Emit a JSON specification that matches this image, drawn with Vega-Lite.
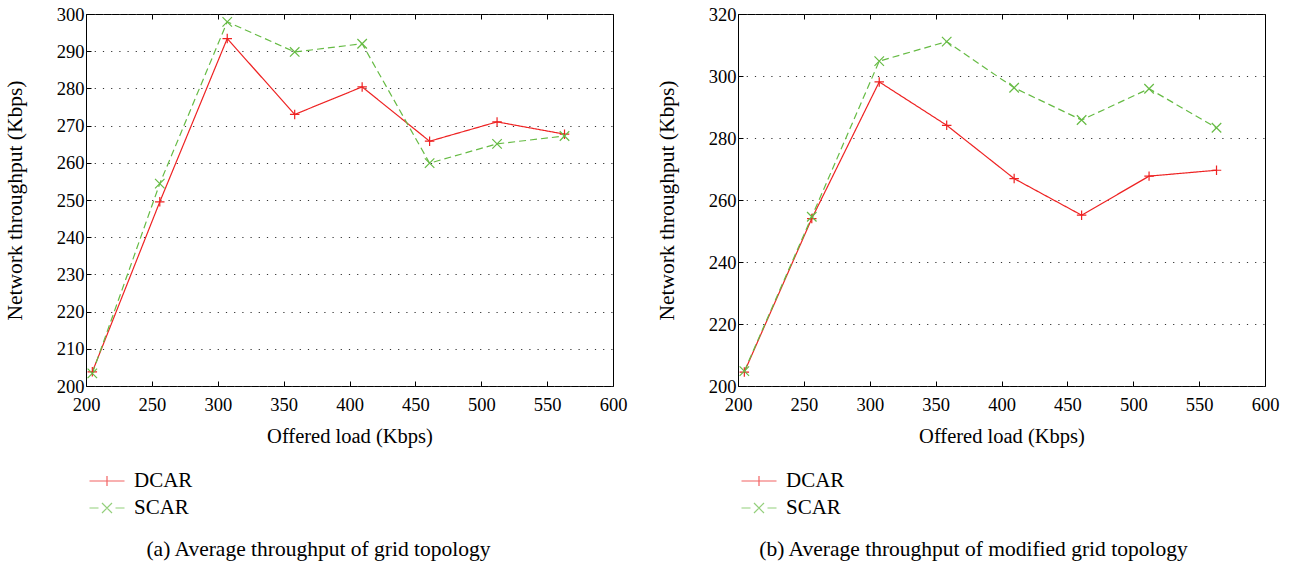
{
  "$schema": "https://vega.github.io/schema/vega-lite/v6.json",
  "padding": {"left": 3, "top": 4, "right": 0, "bottom": 0},
  "background": "white",
  "datasets": {
    "a": [
      {"load": 204.8, "tp": 203.8, "series": "DCAR"},
      {"load": 256.0, "tp": 249.5, "series": "DCAR"},
      {"load": 307.2, "tp": 293.4, "series": "DCAR"},
      {"load": 358.4, "tp": 273.0, "series": "DCAR"},
      {"load": 409.6, "tp": 280.4, "series": "DCAR"},
      {"load": 460.8, "tp": 265.8, "series": "DCAR"},
      {"load": 512.0, "tp": 271.0, "series": "DCAR"},
      {"load": 563.2, "tp": 267.7, "series": "DCAR"},
      {"load": 204.8, "tp": 203.4, "series": "SCAR"},
      {"load": 256.0, "tp": 254.4, "series": "SCAR"},
      {"load": 307.2, "tp": 297.9, "series": "SCAR"},
      {"load": 358.4, "tp": 289.8, "series": "SCAR"},
      {"load": 409.6, "tp": 292.0, "series": "SCAR"},
      {"load": 460.8, "tp": 259.9, "series": "SCAR"},
      {"load": 512.0, "tp": 265.1, "series": "SCAR"},
      {"load": 563.2, "tp": 267.2, "series": "SCAR"}
    ],
    "b": [
      {"load": 204.8, "tp": 204.5, "series": "DCAR"},
      {"load": 256.0, "tp": 254.0, "series": "DCAR"},
      {"load": 307.2, "tp": 298.1, "series": "DCAR"},
      {"load": 358.4, "tp": 284.1, "series": "DCAR"},
      {"load": 409.6, "tp": 266.9, "series": "DCAR"},
      {"load": 460.8, "tp": 255.1, "series": "DCAR"},
      {"load": 512.0, "tp": 267.7, "series": "DCAR"},
      {"load": 563.2, "tp": 269.6, "series": "DCAR"},
      {"load": 204.8, "tp": 204.8, "series": "SCAR"},
      {"load": 256.0, "tp": 254.6, "series": "SCAR"},
      {"load": 307.2, "tp": 304.8, "series": "SCAR"},
      {"load": 358.4, "tp": 311.1, "series": "SCAR"},
      {"load": 409.6, "tp": 296.2, "series": "SCAR"},
      {"load": 460.8, "tp": 285.8, "series": "SCAR"},
      {"load": 512.0, "tp": 295.9, "series": "SCAR"},
      {"load": 563.2, "tp": 283.3, "series": "SCAR"}
    ]
  },
  "spacing": 27,
  "hconcat": [
    {
      "width": 527,
      "height": 372,
      "data": {"name": "a"},
      "title": {"text": "(a)  Average throughput of grid topology", "orient": "bottom", "anchor": "middle", "dx": -31, "offset": 21},
      "resolve": {"axis": {"x": "independent"}, "scale": {"shape": "independent", "color": "independent"}},
      "layer": [
        {
          "mark": {"type": "line", "strokeWidth": 1.2},
          "encoding": {
            "x": {"field": "load", "type": "quantitative", "scale": {"domain": [200, 600]}, "axis": {"values": [200, 250, 300, 350, 400, 450, 500, 550, 600], "title": "Offered load (Kbps)", "orient": "bottom"}},
            "y": {"field": "tp", "type": "quantitative", "scale": {"domain": [200, 300]}, "axis": {"values": [200, 210, 220, 230, 240, 250, 260, 270, 280, 290, 300], "title": "Network throughput (Kbps)", "grid": true}},
            "color": {"field": "series", "type": "nominal", "scale": {"domain": ["DCAR", "SCAR"], "range": ["#ee2222", "#66bb44"]}, "legend": null},
            "strokeDash": {"field": "series", "type": "nominal", "scale": {"domain": ["DCAR", "SCAR"], "range": [[1, 0], [7, 4]]}, "legend": null}
          }
        },
        {
          "mark": {"type": "point", "filled": false, "strokeWidth": 1.2, "size": 90, "opacity": 1},
          "encoding": {
            "x": {"field": "load", "type": "quantitative", "axis": {"orient": "top", "values": [200, 250, 300, 350, 400, 450, 500, 550, 600], "labels": false, "title": null}},
            "y": {"field": "tp", "type": "quantitative", "axis": {"values": [200, 210, 220, 230, 240, 250, 260, 270, 280, 290, 300], "title": "Network throughput (Kbps)", "grid": true}},
            "color": {"field": "series", "type": "nominal", "scale": {"domain": ["DCAR", "SCAR"], "range": ["#ee2222", "#66bb44"]}, "legend": null},
            "shape": {"field": "series", "type": "nominal", "scale": {"domain": ["DCAR", "SCAR"], "range": ["M-1,0H1M0,-1V1", "M-1,-1L1,1M-1,1L1,-1"]}, "legend": null}
          }
        },
        {
          "transform": [{"filter": "datum.load < 0"}],
          "mark": {"type": "point", "filled": false, "strokeWidth": 1.2},
          "encoding": {
            "x": {"field": "load", "type": "quantitative", "axis": null},
            "y": {"field": "tp", "type": "quantitative", "axis": {"values": [200, 210, 220, 230, 240, 250, 260, 270, 280, 290, 300], "title": "Network throughput (Kbps)", "grid": true}},
            "color": {"field": "series", "type": "nominal", "scale": {"domain": ["DCAR", "SCAR"], "range": ["#ee2222", "#66bb44"]}, "legend": {"orient": "none", "legendX": 10, "legendY": 456, "direction": "vertical", "title": null}},
            "shape": {"field": "series", "type": "nominal", "scale": {"domain": ["DCAR", "SCAR"], "range": ["M-1.75,0H1.75M0,-0.5V0.5", "M-1.75,0H-0.85M0.85,0H1.75M-0.5,-0.5L0.5,0.5M-0.5,0.5L0.5,-0.5"]}, "legend": {"orient": "none", "legendX": 10, "legendY": 456, "direction": "vertical", "title": null}}
          }
        }
      ]
    },
    {
      "width": 527,
      "height": 372,
      "data": {"name": "b"},
      "title": {"text": "(b)  Average throughput of modified grid topology", "orient": "bottom", "anchor": "middle", "dx": -28, "offset": 21},
      "resolve": {"axis": {"x": "independent"}, "scale": {"shape": "independent", "color": "independent"}},
      "layer": [
        {
          "mark": {"type": "line", "strokeWidth": 1.2},
          "encoding": {
            "x": {"field": "load", "type": "quantitative", "scale": {"domain": [200, 600]}, "axis": {"values": [200, 250, 300, 350, 400, 450, 500, 550, 600], "title": "Offered load (Kbps)", "orient": "bottom"}},
            "y": {"field": "tp", "type": "quantitative", "scale": {"domain": [200, 320]}, "axis": {"values": [200, 220, 240, 260, 280, 300, 320], "title": "Network throughput (Kbps)", "grid": true}},
            "color": {"field": "series", "type": "nominal", "scale": {"domain": ["DCAR", "SCAR"], "range": ["#ee2222", "#66bb44"]}, "legend": null},
            "strokeDash": {"field": "series", "type": "nominal", "scale": {"domain": ["DCAR", "SCAR"], "range": [[1, 0], [7, 4]]}, "legend": null}
          }
        },
        {
          "mark": {"type": "point", "filled": false, "strokeWidth": 1.2, "size": 90, "opacity": 1},
          "encoding": {
            "x": {"field": "load", "type": "quantitative", "axis": {"orient": "top", "values": [200, 250, 300, 350, 400, 450, 500, 550, 600], "labels": false, "title": null}},
            "y": {"field": "tp", "type": "quantitative", "axis": {"values": [200, 220, 240, 260, 280, 300, 320], "title": "Network throughput (Kbps)", "grid": true}},
            "color": {"field": "series", "type": "nominal", "scale": {"domain": ["DCAR", "SCAR"], "range": ["#ee2222", "#66bb44"]}, "legend": null},
            "shape": {"field": "series", "type": "nominal", "scale": {"domain": ["DCAR", "SCAR"], "range": ["M-1,0H1M0,-1V1", "M-1,-1L1,1M-1,1L1,-1"]}, "legend": null}
          }
        },
        {
          "transform": [{"filter": "datum.load < 0"}],
          "mark": {"type": "point", "filled": false, "strokeWidth": 1.2},
          "encoding": {
            "x": {"field": "load", "type": "quantitative", "axis": null},
            "y": {"field": "tp", "type": "quantitative", "axis": {"values": [200, 220, 240, 260, 280, 300, 320], "title": "Network throughput (Kbps)", "grid": true}},
            "color": {"field": "series", "type": "nominal", "scale": {"domain": ["DCAR", "SCAR"], "range": ["#ee2222", "#66bb44"]}, "legend": {"orient": "none", "legendX": 10, "legendY": 456, "direction": "vertical", "title": null}},
            "shape": {"field": "series", "type": "nominal", "scale": {"domain": ["DCAR", "SCAR"], "range": ["M-1.75,0H1.75M0,-0.5V0.5", "M-1.75,0H-0.85M0.85,0H1.75M-0.5,-0.5L0.5,0.5M-0.5,0.5L0.5,-0.5"]}, "legend": {"orient": "none", "legendX": 10, "legendY": 456, "direction": "vertical", "title": null}}
          }
        }
      ]
    }
  ],
  "config": {
    "font": "Liberation Serif",
    "view": {"stroke": "black", "strokeWidth": 1},
    "axis": {
      "domain": false,
      "tickColor": "black",
      "tickSize": -5,
      "tickWidth": 1,
      "labelColor": "black",
      "labelFont": "Liberation Serif",
      "labelFontSize": 18.5,
      "labelFlush": false,
      "labelOverlap": false,
      "titleFont": "Liberation Serif",
      "titleFontSize": 20.5,
      "titleFontWeight": "normal",
      "titleColor": "black",
      "gridColor": "#333333",
      "gridDash": [1.2, 7],
      "gridWidth": 1.2
    },
    "axisX": {"grid": false, "labelPadding": 14, "titlePadding": 13},
    "axisY": {"labelPadding": 7, "titlePadding": 30, "titleFontSize": 21.5},
    "legend": {
      "labelFont": "Liberation Serif",
      "labelFontSize": 21,
      "labelColor": "black",
      "symbolSize": 400,
      "symbolStrokeWidth": 1.2,
      "labelOffset": 16,
      "rowPadding": 6,
      "padding": 0
    },
    "title": {"font": "Liberation Serif", "fontSize": 21.5, "fontWeight": "normal", "color": "black"}
  }
}
